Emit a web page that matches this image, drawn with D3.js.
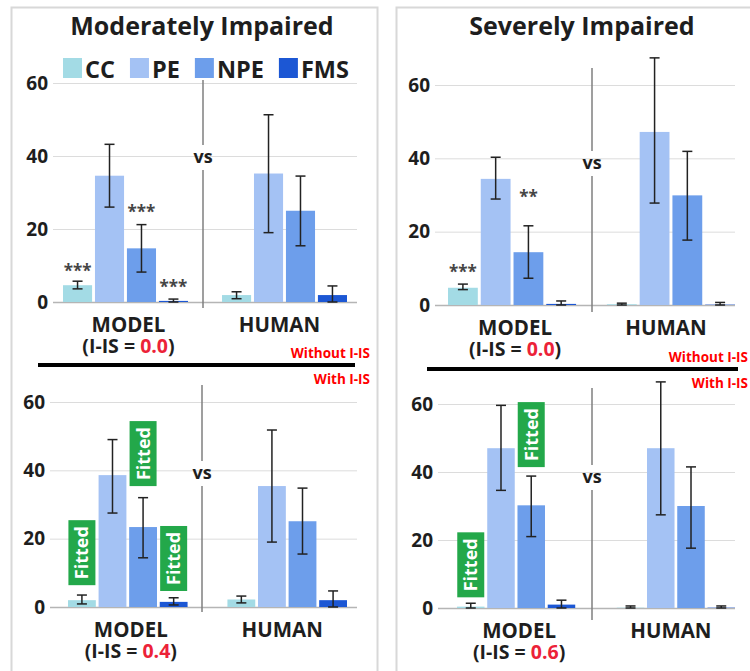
<!DOCTYPE html>
<html><head><meta charset="utf-8">
<script src="https://cdn.jsdelivr.net/npm/d3@7"></script>
<style>body{margin:0;background:#fff}svg{display:block;font-family:"Open Sans",Lato,sans-serif}</style>
</head><body><svg id="c" width="750" height="671"></svg>
<script>
const groups = ["MODEL", "HUMAN"];
const seriesNames = ["CC", "PE", "NPE", "FMS"];
const yTicks = [0, 20, 40, 60];
const panelTitles = ["Moderately Impaired", "Severely Impaired"];

// Moderately impaired, without I-IS (I-IS = 0.0)   rows: MODEL, HUMAN ; cols: CC, PE, NPE, FMS
const modBaseMean = [[4.6, 34.6, 14.7, 0.3], [1.9, 35.2, 25.0, 1.9]];
const modBaseLow  = [[3.6, 26.0, 8.2, 0.0], [0.9, 19.0, 15.4, 0.0]];
const modBaseHigh = [[5.7, 43.2, 21.2, 0.8], [2.8, 51.3, 34.5, 4.4]];
// Severely impaired, without I-IS (I-IS = 0.0)
const sevBaseMean = [[4.7, 34.4, 14.4, 0.3], [0.2, 47.2, 29.9, 0.1]];
const sevBaseLow  = [[4.2, 28.9, 7.3, 0.0], [0.0, 27.8, 17.7, 0.0]];
const sevBaseHigh = [[5.7, 40.3, 21.6, 1.1], [0.5, 67.4, 41.9, 0.7]];
// Moderately impaired, with I-IS (I-IS = 0.4)
const modFitMean = [[2.0, 38.6, 23.4, 1.5], [2.2, 35.4, 25.1, 2.0]];
const modFitLow  = [[0.9, 27.5, 14.4, 0.6], [1.2, 19.0, 15.5, 0.0]];
const modFitHigh = [[3.5, 49.0, 32.0, 2.7], [3.2, 51.8, 34.8, 4.7]];
// Severely impaired, with I-IS (I-IS = 0.6)
const sevFitMean = [[0.4, 47.0, 30.2, 1.0], [0.1, 47.0, 30.0, 0.1]];
const sevFitLow  = [[0.0, 34.6, 21.0, 0.0], [0.0, 27.4, 17.6, 0.0]];
const sevFitHigh = [[1.4, 59.6, 38.8, 2.3], [0.6, 66.5, 41.5, 0.6]];

// significance marks: [series, value position, text]  (MODEL group)
const modBaseStars = [["CC", 9.6, "***"], ["NPE", 25.8, "***"], ["FMS", 5.2, "***"]];
const sevBaseStars = [["CC", 10.1, "***"], ["NPE", 30.5, "**"]];
// "Fitted" tags: [series, centre value]  (MODEL group)
const modFitTags = [["CC", 15.9], ["NPE", 44.9], ["FMS", 14.2]];
const sevFitTags = [["CC", 12.7], ["NPE", 51.0]];
const iisValues = ["0.0", "0.0", "0.4", "0.6"];

const svg = d3.select("#c");
const color = d3.scaleOrdinal().domain(seriesNames).range(["#a3dbe5", "#a4c2f4", "#6d9eeb", "#1c57d4"]);
const ink = "#1e1e1e";

// panel frames
svg.append("rect").attr("x", 11.5).attr("y", 7.5).attr("width", 366).attr("height", 700)
  .attr("fill", "none").attr("stroke", "#d8d8d8").attr("stroke-width", 2);
svg.append("rect").attr("x", 396.5).attr("y", 7.5).attr("width", 400).attr("height", 700)
  .attr("fill", "none").attr("stroke", "#d8d8d8").attr("stroke-width", 2);

// titles
svg.append("text").attr("x", 202).attr("y", 35).attr("text-anchor", "middle")
  .attr("font-size", 25).attr("font-weight", 700).attr("fill", ink).text(panelTitles[0]);
svg.append("text").attr("x", 582).attr("y", 35).attr("text-anchor", "middle")
  .attr("font-size", 25).attr("font-weight", 700).attr("fill", ink).text(panelTitles[1]);

// legend
{
  const lg = svg.append("g");
  let x = 63;
  seriesNames.forEach(s => {
    lg.append("rect").attr("x", x).attr("y", 58).attr("width", 19).attr("height", 20).attr("fill", color(s));
    const t = lg.append("text").attr("x", x + 22).attr("y", 78).attr("font-size", 23.5)
      .attr("font-weight", 700).attr("fill", ink).text(s);
    x = x + 22 + t.node().getComputedTextLength() + 15;
  });
}

const charts = [
  {mean: modBaseMean, low: modBaseLow, high: modBaseHigh, x0: 63, x1: 347, pad: 0.214, zero: 302, top: 83,
   gx0: 53, gx1: 357, sep: [203, 80, 308], vsY: 157, stars: modBaseStars, tags: []},
  {mean: sevBaseMean, low: sevBaseLow, high: sevBaseHigh, x0: 448, x1: 735, pad: 0.194, zero: 305, top: 85,
   gx0: 435, gx1: 735, sep: [592, 68, 312], vsY: 163, stars: sevBaseStars, tags: []},
  {mean: modFitMean, low: modFitLow, high: modFitHigh, x0: 68, x1: 347, pad: 0.25, zero: 607, top: 402,
   gx0: 50, gx1: 357, sep: [202, 385, 612], vsY: 473, stars: [], tags: modFitTags},
  {mean: sevFitMean, low: sevFitLow, high: sevFitHigh, x0: 457, x1: 735, pad: 0.26, zero: 608, top: 404,
   gx0: 438, gx1: 735, sep: [592, 388, 620], vsY: 477, stars: [], tags: sevFitTags}
];

charts.forEach((c, ci) => {
  const g = svg.append("g");
  const y = d3.scaleLinear().domain([0, 60]).range([c.zero, c.top]);
  const xg = d3.scaleBand().domain(groups).range([c.x0, c.x1]).paddingInner(c.pad);
  const xs = d3.scaleBand().domain(seriesNames).range([0, xg.bandwidth()]).paddingInner(0.09);

  const ax = g.append("g").attr("transform", `translate(${c.gx0},0)`)
    .call(d3.axisLeft(y).tickValues(yTicks).tickSize(-(c.gx1 - c.gx0)).tickPadding(5));
  ax.select(".domain").remove();
  ax.selectAll(".tick line").attr("stroke", d => d === 0 ? "#b5b5b5" : "#dcdcdc").attr("stroke-width", d => d === 0 ? 1.5 : 1);
  ax.selectAll(".tick text").attr("font-size", 19).attr("font-weight", 700).attr("fill", ink)
    .attr("font-family", "'Open Sans', sans-serif");

  const cx = (gi, s) => xg(groups[gi]) + xs(s) + xs.bandwidth() / 2;

  // bars
  groups.forEach((gn, gi) => {
    seriesNames.forEach((s, si) => {
      const v = c.mean[gi][si];
      g.append("rect").attr("x", xg(gn) + xs(s)).attr("width", xs.bandwidth())
        .attr("y", y(v)).attr("height", y(0) - y(v)).attr("fill", color(s));
    });
  });
  // error bars
  groups.forEach((gn, gi) => {
    seriesNames.forEach((s, si) => {
      const x = cx(gi, s), lo = y(c.low[gi][si]), hi = y(c.high[gi][si]);
      const e = g.append("g").attr("stroke", "#222").attr("stroke-width", 1.5);
      e.append("line").attr("x1", x).attr("x2", x).attr("y1", lo).attr("y2", hi);
      e.append("line").attr("x1", x - 5).attr("x2", x + 5).attr("y1", lo).attr("y2", lo);
      e.append("line").attr("x1", x - 5).attr("x2", x + 5).attr("y1", hi).attr("y2", hi);
    });
  });
  // stars
  c.stars.forEach(([s, v, t]) => {
    g.append("text").attr("x", cx(0, s)).attr("y", y(v) + 10).attr("text-anchor", "middle")
      .attr("font-size", 17).attr("font-weight", 700).attr("fill", "#454545").text(t);
  });
  // fitted tags
  c.tags.forEach(([s, v]) => {
    const x = cx(0, s), yc = y(v);
    g.append("rect").attr("x", x - 13.5).attr("y", yc - 32.5).attr("width", 27).attr("height", 65).attr("fill", "#23a84a");
    g.append("text").attr("transform", `translate(${x},${yc}) rotate(-90)`).attr("text-anchor", "middle")
      .attr("dy", "0.36em").attr("font-size", 18).attr("font-weight", 700).attr("fill", "#fff").text("Fitted");
  });
  // separator + vs
  g.append("line").attr("x1", c.sep[0]).attr("x2", c.sep[0]).attr("y1", c.sep[1]).attr("y2", c.vsY - 12)
    .attr("stroke", "#7f7f7f").attr("stroke-width", 1.5);
  g.append("line").attr("x1", c.sep[0]).attr("x2", c.sep[0]).attr("y1", c.vsY + 13).attr("y2", c.sep[2])
    .attr("stroke", "#7f7f7f").attr("stroke-width", 1.5);
  g.append("text").attr("x", c.sep[0]).attr("y", c.vsY).attr("dy", "0.35em").attr("text-anchor", "middle")
    .attr("font-size", 18).attr("font-weight", 700).attr("fill", ink).text("vs");

  // group labels (MODEL label has a second line with the I-IS value)
  const mx = xg("MODEL") + xg.bandwidth() / 2 + 3;
  const hx = xg("HUMAN") + xg.bandwidth() / 2 - 5;
  const ml = g.append("text").attr("x", mx).attr("y", c.zero + 30).attr("text-anchor", "middle")
    .attr("font-weight", 700).attr("fill", ink);
  ml.append("tspan").attr("font-size", 20.5).text("MODEL");
  ml.append("tspan").attr("x", mx).attr("dy", 21).attr("font-size", 19.5).text("(I-IS = ");
  ml.append("tspan").attr("font-size", 19.5).attr("fill", "#ec2238").text(iisValues[ci]);
  ml.append("tspan").attr("font-size", 19.5).text(")");
  g.append("text").attr("x", hx).attr("y", c.zero + 30).attr("text-anchor", "middle")
    .attr("font-size", 20.5).attr("font-weight", 700).attr("fill", ink).text("HUMAN");
});

// with / without dividers
const divs = [
  {x1: 38, x2: 355, y: 365, tx: 370, anchor: "end"},
  {x1: 427, x2: 738, y: 369, tx: 748, anchor: "end"}
];
divs.forEach(d => {
  svg.append("line").attr("x1", d.x1).attr("x2", d.x2).attr("y1", d.y).attr("y2", d.y)
    .attr("stroke", "#000").attr("stroke-width", 4);
  svg.append("text").attr("x", d.tx).attr("y", d.y - 7).attr("text-anchor", d.anchor)
    .attr("font-size", 13.5).attr("font-weight", 700).attr("fill", "#f00").text("Without I-IS");
  svg.append("text").attr("x", d.tx).attr("y", d.y + 19).attr("text-anchor", d.anchor)
    .attr("font-size", 13.5).attr("font-weight", 700).attr("fill", "#f00").text("With I-IS");
});
</script></body></html>
